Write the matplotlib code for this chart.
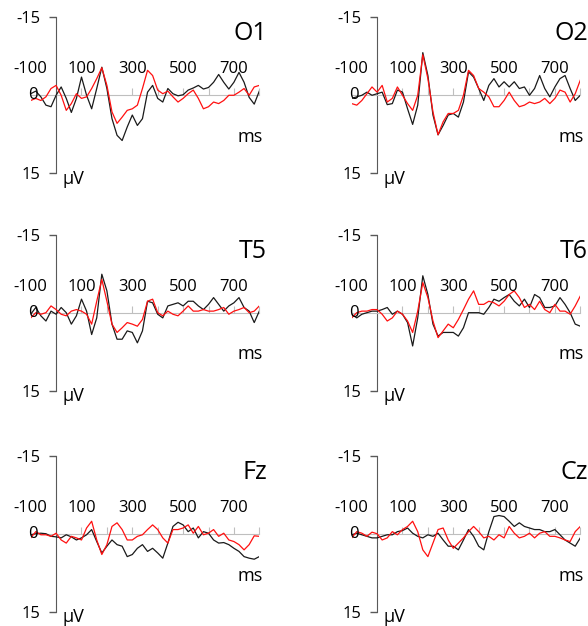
import numpy as np
import matplotlib.pyplot as plt

plt.rcParams['font.family'] = ['Open Sans', 'DejaVu Sans']

# time axis in ms, one sample every 20 ms
t = np.arange(-100, 801, 20)

# amplitudes in uV (negative up)
o1_black = [-0.3, -0.8, 0.3, 1.9, 2.2, 0.0, -1.6, 0.6, 3.3, 0.6,
            -3.5, 0.0, 2.6, -1.3, -5.4, -1.3, 4.5, 7.7, 8.7, 6.1,
            3.8, 5.8, 4.5, -0.6, -1.9, 0.6, 1.3, -1.3, -0.3, 0.1,
            -0.1, -1.0, -1.4, -1.9, -1.2, -1.5, -2.5, -4.0, -2.5, -1.2,
            -2.5, -4.4, -2.5, 0.4, 1.7, -0.8]
o1_red = [1.0, 0.6, 1.0, 0.3, -1.3, -1.9, 0.0, 2.9, 1.6, -0.3,
          0.6, 0.3, -1.3, -3.2, -5.3, -1.9, 3.2, 5.4, 4.2, 2.9,
          2.6, 1.9, -1.3, -4.8, -3.8, -1.0, -0.3, -0.8, 0.3, 1.3,
          0.6, -0.3, -1.0, 0.6, 2.6, 2.2, 1.3, 1.6, 1.0, 0.0,
          0.0, -0.6, -1.3, 0.0, -1.6, -1.9]

o2_black = [0.6, 0.3, 0.0, -0.6, 0.0, -0.3, -0.6, 1.8, 1.6, -1.0,
            -0.6, 2.6, 5.6, 1.9, -8.2, -3.8, 3.8, 7.6, 5.8, 3.8,
            3.5, 4.2, 1.3, -4.5, -3.5, -1.3, 1.0, -1.9, -3.2, -1.6,
            -2.6, -1.6, -2.6, -1.3, -1.6, 0.0, -1.3, -3.8, -1.3, 0.3,
            -1.6, -3.2, -3.8, -1.3, 1.0, 0.0]
o2_red = [1.6, 1.9, 1.0, -0.3, -1.6, -0.6, -1.9, 1.3, 0.6, -1.6,
          0.0, 1.6, 2.9, 0.0, -7.8, -3.2, 3.2, 7.6, 5.1, 3.5,
          3.5, 2.9, 0.0, -4.8, -3.8, -1.3, -0.6, 0.3, 2.2, 2.2,
          1.0, -0.6, 1.0, 2.2, 1.9, 1.3, 1.6, 1.3, 0.6, 1.6,
          0.6, -1.0, -0.6, 1.3, -0.3, -2.9]

t5_black = [0.3, -1.0, 0.6, 1.6, -0.3, 0.3, -1.0, 0.0, 2.2, 0.6,
            -2.6, -0.3, 4.2, 1.0, -7.4, -4.2, 2.2, 5.1, 5.1, 3.5,
            3.8, 5.8, 3.5, -2.2, -1.9, 0.3, 1.0, -1.3, -1.6, -1.9,
            -1.3, -2.2, -2.2, -1.3, -0.6, -1.6, -2.9, -1.6, -0.3, -1.3,
            -1.9, -2.9, -1.0, -0.3, 1.9, -0.3]
t5_red = [1.0, 0.0, 0.3, 0.0, -1.3, -0.6, 0.3, 0.6, -0.3, -0.6,
          -0.3, 0.3, 2.2, -2.2, -6.4, -2.2, 2.2, 3.8, 2.9, 1.9,
          2.2, 2.6, 1.3, -2.2, -2.6, 0.0, 0.6, -0.3, 0.3, 0.6,
          -0.3, -1.3, -0.3, -0.3, -0.6, -0.3, -0.3, -0.6, -1.0, 0.3,
          -0.3, -0.6, -1.0, 0.0, -0.3, -1.3]

t6_black = [0.3, 1.0, 0.3, 0.0, -0.3, -0.3, -0.6, -1.0, 0.3, -0.3,
            0.3, 1.9, 6.4, 1.0, -7.1, -3.5, 2.2, 4.5, 3.8, 3.8,
            3.8, 4.5, 2.9, 0.0, 0.0, 0.0, 0.3, -1.0, -2.6, -2.2,
            -2.9, -3.5, -2.2, -1.3, -2.6, -1.0, -3.5, -2.9, -1.0, -1.0,
            -1.3, -2.9, -1.6, 0.0, 2.2, 2.6]
t6_red = [1.0, 0.0, -0.3, -0.3, -0.6, -0.6, 0.3, 1.6, 1.0, -0.3,
          0.3, 1.6, 3.8, -0.3, -5.8, -2.9, 1.6, 4.8, 3.5, 2.2,
          2.9, 1.3, -0.6, -2.6, -4.2, -1.6, -1.6, -2.2, -1.9, -1.3,
          -2.2, -3.5, -4.2, -2.9, -1.0, -1.6, -0.6, -2.2, -0.6, 0.0,
          -1.6, -0.3, -0.3, 0.3, -1.3, -3.2]

fz_black = [0.2, 0.0, -0.1, 0.0, 0.5, 0.6, 0.8, 0.2, 0.6, 1.2,
            0.8, 0.2, -0.8, 1.5, 3.7, 2.4, 1.2, 2.1, 2.4, 4.4,
            4.0, 2.8, 2.1, 3.4, 2.8, 3.7, 4.7, 1.8, -1.4, -2.2,
            -1.7, -0.4, -1.1, 0.8, -0.4, -0.1, 1.2, 1.8, 1.7, 2.1,
            2.8, 3.4, 4.4, 4.7, 4.9, 4.4]
fz_red = [0.8, -0.4, 0.2, 0.2, 0.5, -0.1, 1.2, 1.8, 0.5, 0.8,
          1.2, -1.1, -2.4, 1.2, 4.0, 2.1, -1.4, -2.1, -0.8, 1.2,
          1.2, 0.5, 0.2, -0.8, -1.7, -0.8, 0.8, 1.8, -0.8, -0.8,
          -1.1, -1.7, -0.1, -1.4, 0.2, -0.1, -0.8, 0.5, -0.1, 1.2,
          1.5, 2.1, 3.1, 2.1, 0.4, 0.5]

cz_black = [0.2, -0.1, 0.2, 0.5, 0.8, 0.8, 0.5, 0.2, 0.2, -0.4,
            -0.6, -1.1, -0.1, 0.5, 0.8, 0.2, 0.5, -0.1, 1.2, 2.4,
            2.4, 3.1, 1.2, -0.8, 0.5, 2.4, 3.1, -0.4, -3.3, -3.5,
            -3.3, -2.4, -1.4, -2.1, -1.4, -1.1, -0.8, -0.8, -0.4, -0.4,
            -0.8, 0.2, 1.2, 1.8, 2.4, 0.8]
cz_red = [0.8, -0.4, -0.1, 0.5, -0.3, 0.0, 1.2, 0.8, -0.4, 0.2,
          -0.8, -1.4, -2.4, -0.4, 3.1, 4.4, 1.8, -0.8, -1.1, 1.2,
          2.8, 1.8, 0.8, -0.4, -1.4, -0.4, 0.8, 0.5, 1.2, 0.2,
          0.8, -1.4, -0.1, 0.8, 0.5, -0.1, 0.8, -0.1, -0.4, 0.5,
          0.5, 0.8, 1.2, 1.5, -0.4, -1.4]

channels = ["O1", "O2", "T5", "T6", "Fz", "Cz"]
black_data = [o1_black, o2_black, t5_black, t6_black, fz_black, cz_black]
red_data = [o1_red, o2_red, t5_red, t6_red, fz_red, cz_red]

xlabels = [-100, 100, 300, 500, 700]

fig = plt.figure(figsize=(5.88, 6.26), dpi=100)
lefts = [0.0522, 0.5981]
bottoms = [0.7232, 0.3759, 0.0228]

for i, name in enumerate(channels):
    r, c = divmod(i, 2)
    ax = fig.add_axes([lefts[c], bottoms[r], 0.3888, 0.2492])
    ax.patch.set_visible(False)

    ax.plot(t, black_data[i], color='#1a1a1a', lw=0.9, zorder=3,
            solid_joinstyle='round')
    ax.plot(t, red_data[i], color='#ff1010', lw=0.9, zorder=3,
            solid_joinstyle='round')

    ax.set_xlim(-100, 800)
    ax.set_ylim(15, -15)

    ax.spines['top'].set_visible(False)
    ax.spines['right'].set_visible(False)
    ax.spines['left'].set_position(('data', 0))
    ax.spines['bottom'].set_position(('data', 0))
    ax.spines['left'].set_color('#595959')
    ax.spines['bottom'].set_color('#bfbfbf')

    ax.set_yticks([-15, 15])
    ax.set_yticklabels(['-15', '15'])
    ax.tick_params(axis='y', length=5, width=1, color='#595959', pad=6, labelsize=12)
    ax.set_xticks(range(100, 801, 100))
    ax.set_xticklabels([])
    ax.tick_params(axis='x', direction='in', length=5, color='#bfbfbf')

    for v in xlabels:
        ax.text(v, -5, str(v), ha='center', va='center', fontsize=12)
    ax.text(-93, 0, '0', ha='center', va='center', fontsize=12)

    ax.text(830, -10.6, name, ha='right', va='baseline', fontsize=18)
    ax.text(815, 9.0, 'ms', ha='right', va='baseline', fontsize=13)
    ax.text(27, 17.0, 'µV', ha='left', va='baseline', fontsize=13)

fig.savefig('out.png', dpi=100)
